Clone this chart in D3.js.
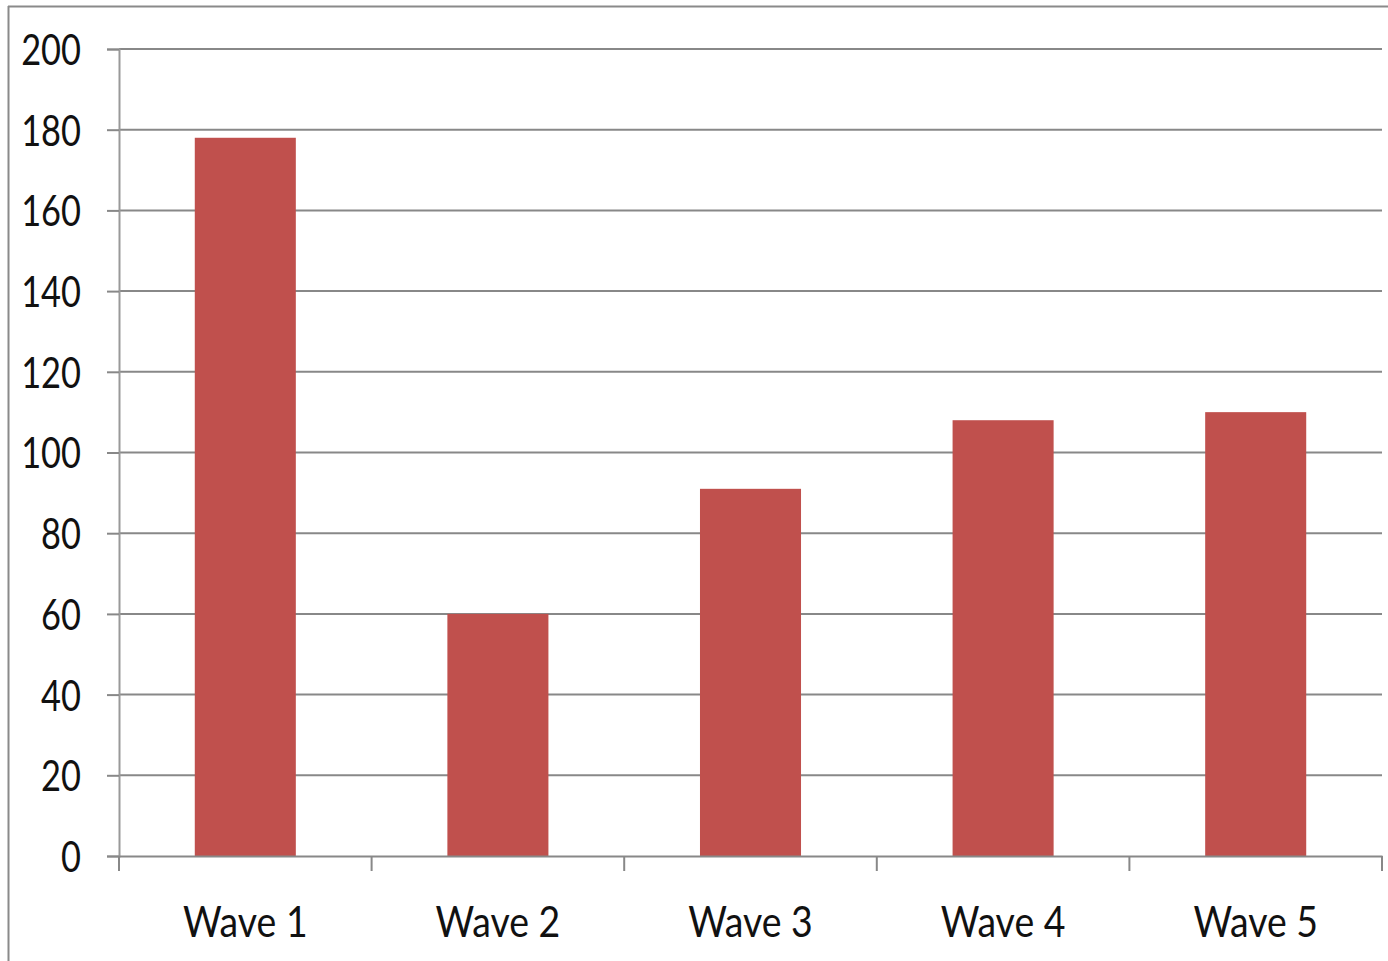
<!DOCTYPE html>
<html>
<head>
<meta charset="utf-8">
<script src="https://cdn.jsdelivr.net/npm/d3@7"></script>
<style>
  body { margin: 0; background: #fff; }
  svg text { font-family: Lato, "Open Sans", sans-serif; fill: #111; }
</style>
</head>
<body>
<script>
const categories = ["Wave 1", "Wave 2", "Wave 3", "Wave 4", "Wave 5"];
const values = [178, 60, 91, 108, 110];
const yTicks = [0, 20, 40, 60, 80, 100, 120, 140, 160, 180, 200];

const width = 1388, height = 961;
const plotLeft = 119, plotRight = 1382, plotTop = 49, plotBottom = 856;

const svg = d3.select("body").append("svg")
    .attr("width", width)
    .attr("height", height);

// outer frame (top + left edges visible)
svg.append("line").attr("x1", 8).attr("x2", width).attr("y1", 6.5).attr("y2", 6.5)
    .attr("stroke", "#8a8a8a").attr("stroke-width", 2);
svg.append("line").attr("x1", 8.5).attr("x2", 8.5).attr("y1", 6).attr("y2", height)
    .attr("stroke", "#8a8a8a").attr("stroke-width", 2);

let x = d3.scaleBand()
    .domain(categories)
    .range([plotLeft, plotRight])
    .padding(0);

let y = d3.scaleLinear()
    .domain([0, 200])
    .range([plotBottom, plotTop]);

// gridlines
svg.append("g")
    .selectAll("line")
    .data(yTicks.filter(d => d > 0))
    .enter()
    .append("line")
    .attr("x1", plotLeft)
    .attr("x2", plotRight)
    .attr("y1", d => y(d))
    .attr("y2", d => y(d))
    .attr("stroke", "#888")
    .attr("stroke-width", 2);

// bars: 40% of the band, centred
svg.append("g")
    .selectAll("rect")
    .data(values)
    .enter()
    .append("rect")
    .attr("x", (d, i) => x(categories[i]) + x.bandwidth() * 0.3)
    .attr("width", x.bandwidth() * 0.4)
    .attr("y", d => y(d))
    .attr("height", d => y(0) - y(d))
    .attr("fill", "#c0504d");

// y axis
let yAxis = svg.append("g")
    .attr("transform", `translate(${plotLeft},0)`)
    .call(d3.axisLeft(y).tickValues(yTicks).tickSize(12).tickPadding(0).tickFormat(d => d));
yAxis.select(".domain").attr("stroke", "#999").attr("stroke-width", 2);
yAxis.selectAll(".tick line").attr("stroke", "#888").attr("stroke-width", 2);
yAxis.selectAll(".tick text")
    .attr("x", 0)
    .attr("dy", "0.36em")
    .attr("font-size", 43)
    .attr("text-anchor", "end")
    .attr("transform", "translate(-38,0) scale(0.8,1)")
    .style("fill", "#111");

// x axis
let xAxis = svg.append("g")
    .attr("transform", `translate(0,${plotBottom})`)
    .call(d3.axisBottom(x).tickSize(0).tickPadding(0));
xAxis.select(".domain").attr("stroke", "#888").attr("stroke-width", 2);
xAxis.selectAll(".tick text").remove();

// category separators below the axis
svg.append("g")
    .selectAll("line")
    .data(categories.map(c => x(c)).concat([x(categories[categories.length - 1]) + x.bandwidth()]))
    .enter()
    .append("line")
    .attr("x1", d => d)
    .attr("x2", d => d)
    .attr("y1", plotBottom)
    .attr("y2", plotBottom + 15)
    .attr("stroke", "#888")
    .attr("stroke-width", 2);

svg.append("g")
    .selectAll("text")
    .data(categories)
    .enter()
    .append("text")
    .attr("transform", d => `translate(${x(d) + x.bandwidth() / 2},937) scale(0.87,1)`)
    .attr("text-anchor", "middle")
    .attr("font-size", 43)
    .text(d => d);
</script>
</body>
</html>
